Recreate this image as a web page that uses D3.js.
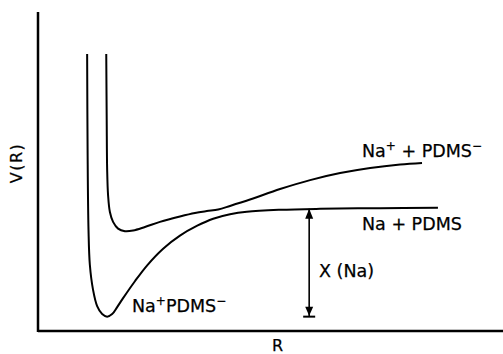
<!DOCTYPE html>
<html>
<head>
<meta charset="utf-8">
<script src="https://cdn.jsdelivr.net/npm/d3@7"></script>
<style>
  body { margin: 0; background: #fff; }
  text { font-family: "DejaVu Sans", sans-serif; fill: #000; stroke: #000; stroke-width: 0.25; }
</style>
</head>
<body>
<svg width="503" height="354"></svg>
<script>
// The svg
var svg = d3.select("svg"),
    width = +svg.attr("width"),
    height = +svg.attr("height");

// Curves (arbitrary units, R and V from 0 to 100)
var ionicR = [10.8, 10.9, 11.1, 11.4, 12.1, 13.0, 14.1, 15.2, 16.3, 17.4, 18.7, 21.3, 24.0, 27.5, 31.2, 35.0, 38.5, 42.2, 45.9, 53.2, 62.0, 75.2, 87.9];
var ionicV = [86.8, 56.7, 31.7, 20.7, 12.9, 7.8, 5.3, 4.5, 5.3, 7.5, 10.3, 15.6, 20.6, 25.8, 29.9, 33.0, 35.2, 36.6, 37.4, 38.0, 38.3, 38.5, 38.6];

var neutralR = [15.0, 15.1, 15.2, 15.4, 15.8, 16.5, 17.6, 19.1, 20.9, 23.5, 26.8, 31.2, 34.5, 37.1, 39.6, 42.2, 46.6, 53.2, 59.8, 66.4, 73.0, 79.6, 84.4];
var neutralV = [86.8, 66.1, 50.5, 42.6, 37.3, 34.2, 32.1, 31.3, 31.5, 32.6, 34.2, 35.9, 37.0, 37.6, 38.1, 39.2, 41.2, 44.5, 47.3, 49.5, 51.1, 52.2, 52.7];

// Electron affinity arrow
var chiR = 59.6;
var chiTop = 38.3;
var chiBottom = 4.5;

// Labels
var labels = ["Na", "PDMS", "V(R)", "R"];

var x = d3.scaleLinear().domain([0, 100]).range([38, 493]);
var y = d3.scaleLinear().domain([0, 100]).range([331, 12]);

// axes, no ticks
svg.append("line")
    .attr("x1", x(0)).attr("x2", width)
    .attr("y1", y(0)).attr("y2", y(0))
    .attr("stroke", "black").attr("stroke-width", 2.5);
svg.append("line")
    .attr("x1", x(0)).attr("x2", x(0))
    .attr("y1", y(0) + 1).attr("y2", y(100))
    .attr("stroke", "black").attr("stroke-width", 2.5);

var line = d3.line()
    .x(function(d){ return x(d[0]) })
    .y(function(d){ return y(d[1]) })
    .curve(d3.curveCatmullRom.alpha(0.5));

var curves = [d3.zip(ionicR, ionicV), d3.zip(neutralR, neutralV)];

svg.selectAll("path.curve")
    .data(curves)
    .enter()
    .append("path")
    .attr("class", "curve")
    .attr("d", line)
    .attr("fill", "none")
    .attr("stroke", "black")
    .attr("stroke-width", 2);

// double arrow for chi
var ax = x(chiR), at = y(chiTop), ab = y(chiBottom);
svg.append("line")
    .attr("x1", ax).attr("x2", ax)
    .attr("y1", at).attr("y2", ab)
    .attr("stroke", "black").attr("stroke-width", 1.6);
svg.append("path")
    .attr("d", "M" + ax + "," + at + " L" + (ax - 4) + "," + (at + 10) + " L" + (ax + 4) + "," + (at + 10) + "Z")
    .attr("fill", "black");
svg.append("path")
    .attr("d", "M" + ax + "," + (ab - 1) + " L" + (ax - 4) + "," + (ab - 10) + " L" + (ax + 4) + "," + (ab - 10) + "Z")
    .attr("fill", "black");
svg.append("line")
    .attr("x1", ax - 6).attr("x2", ax + 6)
    .attr("y1", ab).attr("y2", ab)
    .attr("stroke", "black").attr("stroke-width", 2);

// text labels
function sup(t, s) { t.append("tspan").attr("dy", -7).style("font-size", "12px").text(s); }

var t1 = svg.append("text").attr("x", 362).attr("y", 157).style("font-size", "17.5px");
t1.append("tspan").text(labels[0]);
sup(t1, "+");
t1.append("tspan").attr("dy", 7).text(" + " + labels[1]);
sup(t1, "\u2212");

svg.append("text").attr("x", 362).attr("y", 230).style("font-size", "17.5px")
    .text(labels[0] + " + " + labels[1]);

var t3 = svg.append("text").attr("x", 132).attr("y", 312).style("font-size", "17.5px");
t3.append("tspan").text(labels[0]);
sup(t3, "+");
t3.append("tspan").attr("dy", 7).text(labels[1]);
sup(t3, "\u2212");

svg.append("text").attr("x", 319).attr("y", 277).style("font-size", "17.5px")
    .text("\u03A7 (" + labels[0] + ")");

svg.append("text").attr("x", 272).attr("y", 351).style("font-size", "16px")
    .text(labels[3]);

svg.append("text")
    .attr("transform", "translate(22,163) rotate(-90)")
    .attr("text-anchor", "middle")
    .style("font-size", "16px")
    .style("letter-spacing", "1.5px")
    .text(labels[2]);
</script>
</body>
</html>
